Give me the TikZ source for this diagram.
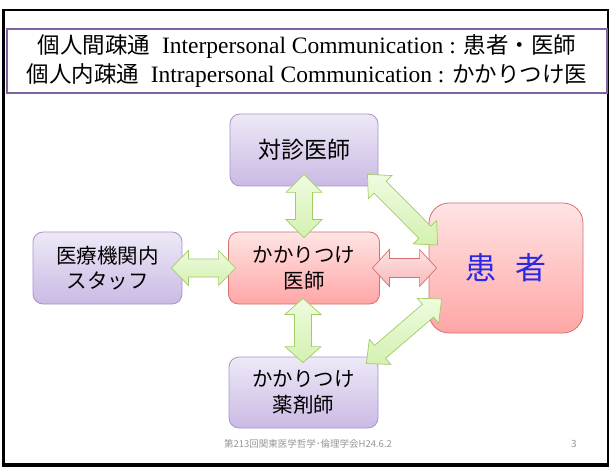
\documentclass[tikz,border=0pt]{standalone}
\usepackage{fontspec}
\setmainfont{Liberation Serif}
\newfontfamily\jp{Noto Sans CJK JP}
\usetikzlibrary{calc}
\definecolor{purpT}{RGB}{238,233,247}
\definecolor{purpB}{RGB}{202,186,228}
\definecolor{purpD}{RGB}{168,148,204}
\definecolor{redT}{RGB}{255,228,228}
\definecolor{redB}{RGB}{255,166,166}
\definecolor{redD}{RGB}{212,112,112}
\definecolor{grnT}{RGB}{238,251,224}
\definecolor{grnB}{RGB}{212,241,176}
\definecolor{grnD}{RGB}{160,205,100}
\definecolor{arrRT}{RGB}{255,226,226}
\definecolor{arrRB}{RGB}{246,186,186}
\definecolor{titleD}{RGB}{128,100,162}
\definecolor{pblue}{RGB}{40,40,230}
\definecolor{foot}{RGB}{150,150,150}
\newcommand\blockarrow[6]{%
\path[#6] (#1) -- ($(#1)!#3!(#2)!#4!90:(#2)$) -- ($(#1)!#3!(#2)!#5!90:(#2)$)
 -- ($(#2)!#3!(#1)!#5!-90:(#1)$) -- ($(#2)!#3!(#1)!#4!-90:(#1)$) -- (#2)
 -- ($(#2)!#3!(#1)!#4!90:(#1)$) -- ($(#2)!#3!(#1)!#5!90:(#1)$)
 -- ($(#1)!#3!(#2)!#5!-90:(#2)$) -- ($(#1)!#3!(#2)!#4!-90:(#2)$) -- cycle;}
\tikzset{
 pbox/.style={draw=purpD, line width=0.8pt, rounded corners=10pt, top color=purpT, bottom color=purpB, align=center, inner sep=0pt},
 rbox/.style={draw=redD, line width=0.8pt, rounded corners=10pt, top color=redT, bottom color=redB, align=center, inner sep=0pt},
 garrow/.style={draw=grnD, line width=0.7pt, top color=grnT, bottom color=grnB, line join=miter},
 rarrow/.style={draw=redD, line width=0.7pt, top color=arrRT, bottom color=arrRB, line join=miter},
 boxtxt/.style={font=\jp\fontsize{20.5}{25.5}\selectfont},
}
\begin{document}
\begin{tikzpicture}[x=1pt,y=-1pt]
\useasboundingbox (0,0) rectangle (613,473);
% slide frame
\draw[line width=2pt] (3.5,9.7) rectangle (608,464);
\draw[line width=3pt] (3.3,9) -- (3.3,465.5) -- (608.5,465.5);
% title
\node[draw=titleD, line width=1.3pt, minimum width=600pt, minimum height=64pt, inner sep=0pt, align=center,
 font=\fontsize{23.5}{29}\selectfont] (title) at (307,61)
 {{\jp\fontsize{22.5}{29}\selectfont 個人間疎通}\ \ Interpersonal Communication : {\jp\fontsize{22.5}{29}\selectfont 患者・医師}\\
  {\jp\fontsize{22.5}{29}\selectfont 個人内疎通}\ \ Intrapersonal Communication : {\jp\fontsize{22.5}{29}\selectfont かかりつけ医}};
% boxes
\node[pbox, minimum width=148pt, minimum height=72pt, font=\jp\fontsize{23}{28}\selectfont] (taishin) at (304,150) {対診医師};
\node[pbox, minimum width=149pt, minimum height=72pt, boxtxt] (staff) at (107.5,268) {医療機関内\\スタッフ};
\node[rbox, minimum width=151pt, minimum height=72pt, boxtxt] (kakari) at (304,268) {かかりつけ\\医師};
\node[rbox, rounded corners=20pt, minimum width=154pt, minimum height=130pt, text=pblue, font=\jp\fontsize{31}{36}\selectfont] (kanja) at (506,268) {患\hspace{19pt}者};
\node[pbox, minimum width=149pt, minimum height=71pt, boxtxt] (yaku) at (303.5,392.5) {かかりつけ\\薬剤師};
% arrow end points
\coordinate (a1) at ($(taishin.south)+(0,-12)$);
\coordinate (b1) at ($(kakari.north)+(0,6)$);
\coordinate (a2) at ($(staff.east)+(-11,0)$);
\coordinate (b2) at ($(kakari.west)+(7.5,0)$);
\coordinate (a3) at ($(kakari.east)+(-7.5,0)$);
\coordinate (b3) at ($(kanja.west)+(8,0)$);
\coordinate (a4) at ($(taishin.south east)+(-11,-12)$);
\coordinate (b4) at ($(kanja.west)+(9,-23)$);
\coordinate (a5) at ($(kanja.west)+(13,31)$);
\coordinate (b5) at ($(yaku.north east)+(-12,7)$);
\coordinate (a6) at ($(kakari.south)+(-1,-6)$);
\coordinate (b6) at ($(yaku.north)+(-0.5,6)$);
% arrows
\blockarrow{a1}{b1}{18pt}{18pt}{8.5pt}{garrow}
\blockarrow{a2}{b2}{17pt}{17.5pt}{9pt}{garrow}
\blockarrow{a3}{b3}{17pt}{18.5pt}{9.5pt}{rarrow}
\blockarrow{a4}{b4}{18pt}{16.5pt}{8.5pt}{garrow}
\blockarrow{a5}{b5}{18pt}{16.5pt}{8.5pt}{garrow}
\blockarrow{a6}{b6}{16pt}{18pt}{8.5pt}{garrow}
% footer
\node[font=\jp\fontsize{9.5}{11}\selectfont, text=foot, inner sep=0pt] (footer) at (308,444) {第213回関東医学哲学･倫理学会H24.6.2};
\node[font=\jp\fontsize{10}{11}\selectfont, text=foot, inner sep=0pt] (pageno) at (574,444) {3};
\end{tikzpicture}
\end{document}
